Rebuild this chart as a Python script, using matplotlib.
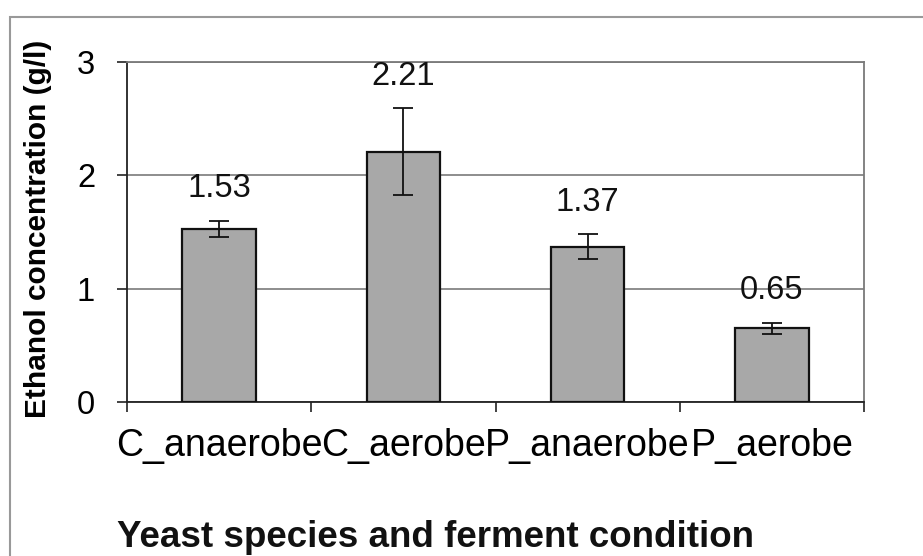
import matplotlib
matplotlib.use("Agg")
import matplotlib.pyplot as plt
from matplotlib.patches import Rectangle

# values
categories = ["C_anaerobe", "C_aerobe", "P_anaerobe", "P_aerobe"]
ethanol = [1.53, 2.21, 1.37, 0.65]
ethanol_err = [0.07, 0.38, 0.11, 0.05]
y_ticks = [0, 1, 2, 3]

plt.rcParams["font.family"] = ["Liberation Sans", "DejaVu Sans"]

fig = plt.figure(figsize=(9.23, 5.56), dpi=100)
ax = fig.add_axes([0.1376, 0.277, 0.7985, 0.6115])

x = list(range(len(categories)))
ax.bar(x, ethanol, width=0.4, color="#a8a8a8", edgecolor="#111111", linewidth=1.6, zorder=3)
ax.errorbar(x, ethanol, yerr=ethanol_err, fmt="none", ecolor="#111111",
            elinewidth=1.3, capsize=7.5, capthick=1.3, zorder=4)

for xi, v, e in zip(x, ethanol, ethanol_err):
    ax.annotate(f"{v:.2f}", (xi, v + e), xytext=(0, 12), textcoords="offset points",
                ha="center", va="bottom", fontsize=23.5, color="#111111")

ax.set_xlim(-0.5, len(categories) - 0.5)
ax.set_ylim(0, 3)
ax.set_yticks(y_ticks)
ax.set_yticklabels([str(t) for t in y_ticks], fontsize=23.5)
ax.set_xticks(x)
ax.set_xticklabels(categories, fontsize=27)
ax.set_xticks([i - 0.5 for i in range(len(categories) + 1)], minor=True)
ax.tick_params(axis="x", which="major", length=0, pad=19)
ax.tick_params(axis="x", which="minor", length=7, width=1.2, color="#222222")
ax.tick_params(axis="y", length=7, width=1.2, color="#222222", pad=16)

ax.yaxis.grid(True, color="#7a7a7a", linewidth=1.2, zorder=0)
ax.set_axisbelow(True)
for side in ["top", "right"]:
    ax.spines[side].set_color("#7a7a7a")
    ax.spines[side].set_linewidth(1.3)
for side in ["left", "bottom"]:
    ax.spines[side].set_color("#222222")
    ax.spines[side].set_linewidth(1.3)

ax.set_ylabel("Ethanol concentration (g/l)", fontsize=21.5, fontweight="bold")
ax.yaxis.set_label_coords(-0.102, 0.51)

fig.text(0.472, 0.0162, "Yeast species and ferment condition", fontsize=26.5,
         fontweight="bold", ha="center", va="baseline", color="#111111")

# outer chart frame
fig.patches.append(Rectangle((10 / 923, -0.02), 1.0, 1 - 17 / 556 + 0.02,
                             transform=fig.transFigure, fill=False,
                             edgecolor="#999999", linewidth=1.5))

fig.savefig("out.png", dpi=100)
